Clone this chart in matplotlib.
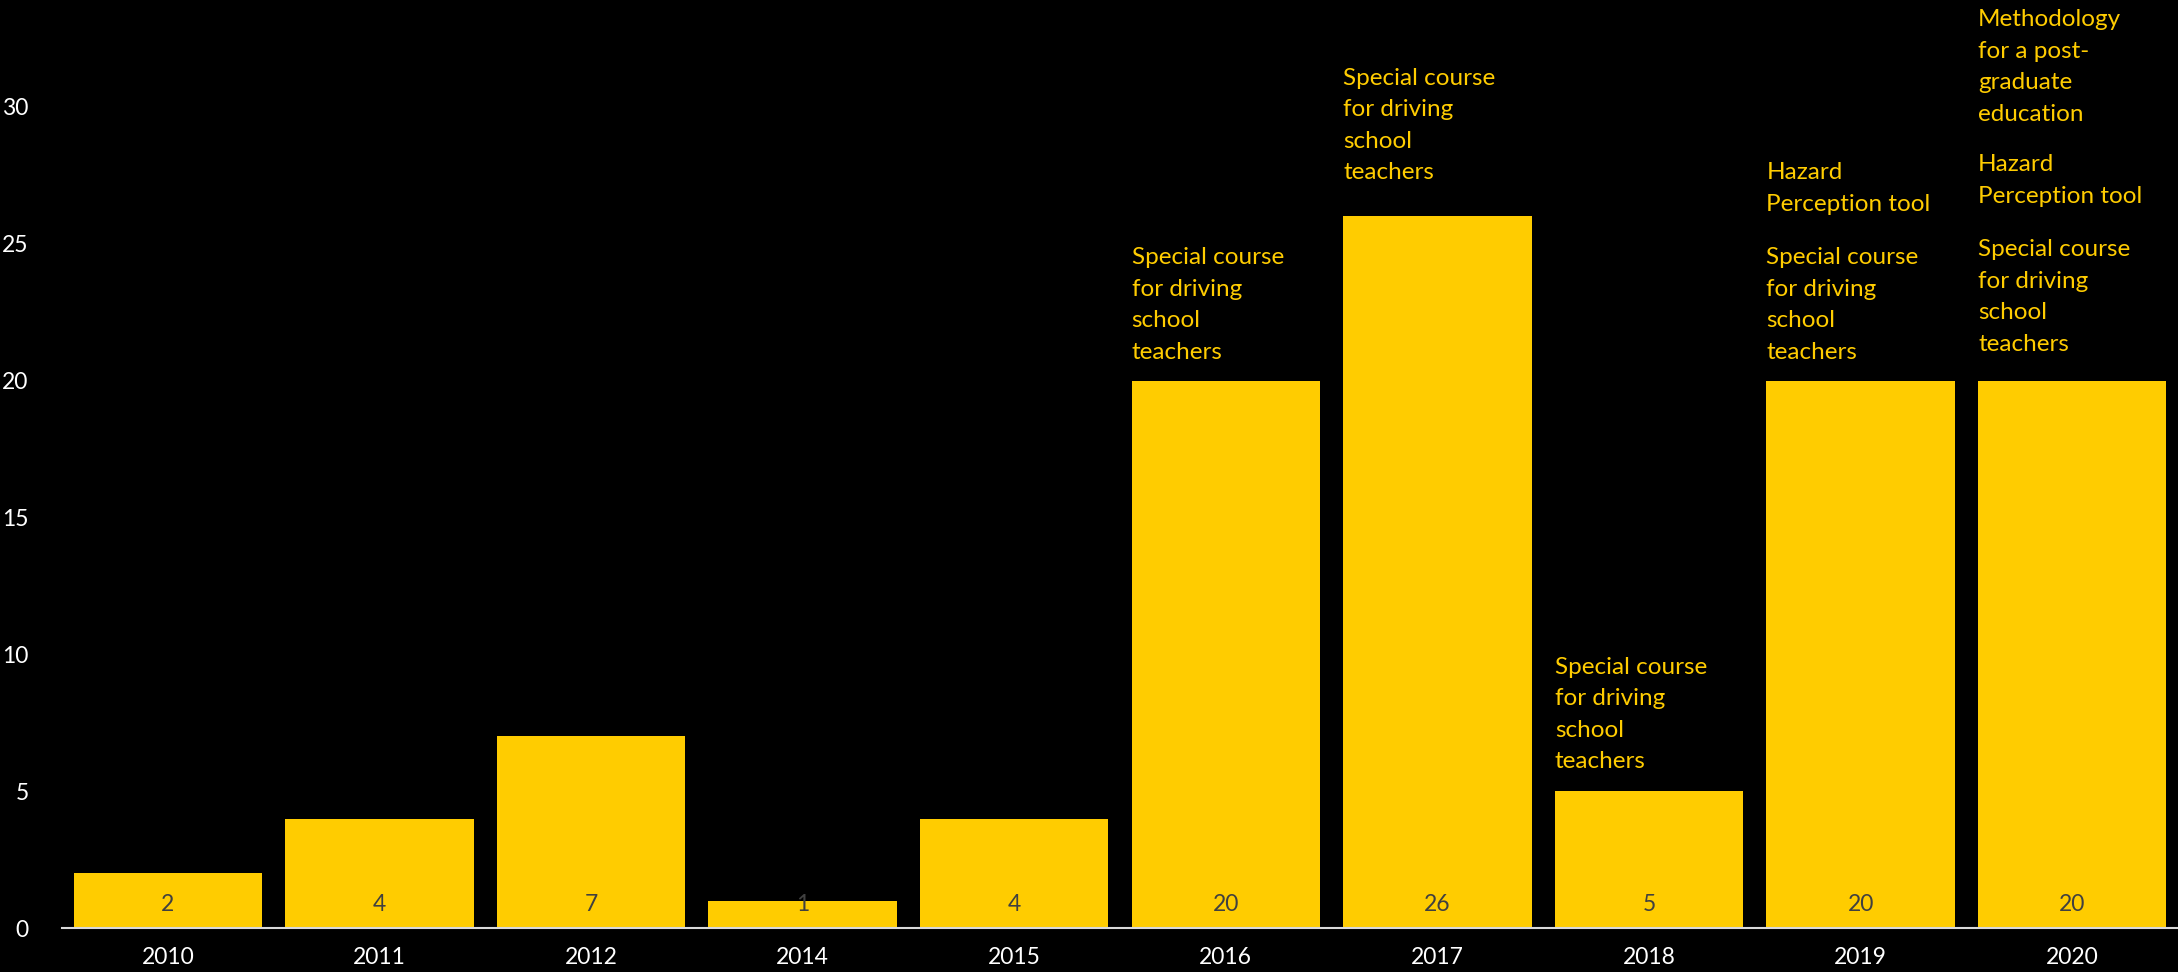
import matplotlib
matplotlib.use("Agg")
import matplotlib.pyplot as plt
import numpy as np

plt.rcParams.update({"font.family": ["Lato", "DejaVu Sans"], "font.size": 16})

# ── Data ────────────────────────────────────────────────────────────────
years  = ["2010", "2011", "2012", "2014", "2015", "2016", "2017", "2018", "2019", "2020"]
values = [2, 4, 7, 1, 4, 20, 26, 5, 20, 20]

course = "Special course\nfor driving\nschool\nteachers"
hazard = "Hazard\nPerception tool"
method = "Methodology\nfor a post-\ngraduate\neducation"
# blocks listed from bottom to top
notes = {
    "2016": [course],
    "2017": [course],
    "2018": [course],
    "2019": [course, hazard],
    "2020": [course, hazard, method],
}
note_lift = {"2016": 22, "2017": 37, "2018": 23, "2019": 22, "2020": 30}  # px, bar top -> last baseline

YELLOW = "#FFCC00"
W, H, DPI = 2178, 972, 100
fig = plt.figure(figsize=(W / DPI, H / DPI), dpi=DPI, facecolor="black")
ax = fig.add_axes([62 / W, 44 / H, (W - 62) / W, (H - 44) / H], facecolor="black")

x = np.arange(len(years))
bw = 0.89
ax.bar(x, values, bw, color=YELLOW, zorder=2)
ax.set_xlim(-0.5, len(years) - 0.5)
ax.set_ylim(0, 928 / 27.37)

for xi, v in zip(x, values):
    ax.text(xi, 0.85, str(v), ha="center", va="center", color="#404040", fontsize=16.5, zorder=3)

px = 72 / DPI  # points per pixel
line_px, gap_px = 33, 49
for yr, blocks in notes.items():
    i = years.index(yr)
    base = note_lift[yr]
    for b in blocks:
        ax.annotate(b, xy=(i - bw / 2, values[i]), xytext=(0, base * px),
                    textcoords="offset points", ha="left", va="baseline",
                    color=YELLOW, fontsize=17.5, linespacing=1.62, annotation_clip=False)
        base += (b.count("\n")) * line_px + gap_px

ax.set_xticks(x)
ax.set_xticklabels(years)
ax.set_yticks(range(0, 31, 5))
for s in ["top", "right", "left"]:
    ax.spines[s].set_visible(False)
ax.spines["bottom"].set_color("#D9D9D9")
ax.spines["bottom"].set_linewidth(1.5)
ax.tick_params(axis="x", length=0, pad=14, colors="white", labelsize=16.5)
ax.tick_params(axis="y", length=0, pad=24, colors="white", labelsize=16.5)

fig.savefig("out.png", dpi=DPI, facecolor="black")
